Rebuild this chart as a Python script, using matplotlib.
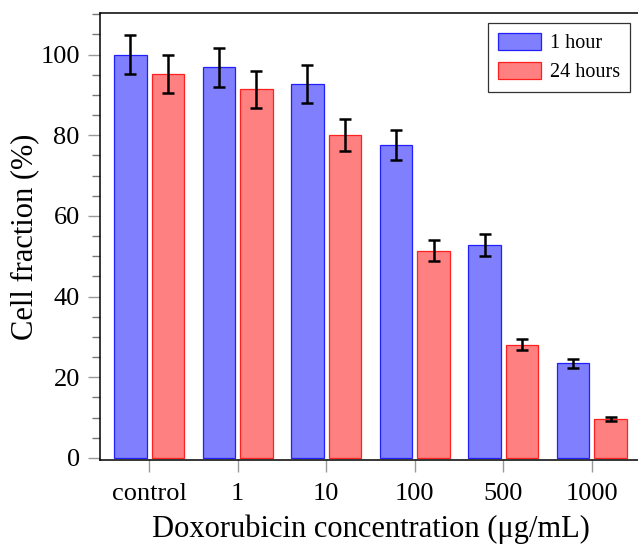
import matplotlib
matplotlib.use("Agg")
import matplotlib.pyplot as plt
from matplotlib.ticker import MultipleLocator
import numpy as np

plt.rcParams['font.family'] = ['Liberation Serif', 'DejaVu Serif']

categories = ["control", "1", "10", "100", "500", "1000"]
one_hour = [100.0, 96.8, 92.8, 77.5, 52.8, 23.5]
one_hour_err = [4.9, 4.8, 4.7, 3.7, 2.65, 1.15]
day = [95.2, 91.4, 80.1, 51.4, 28.1, 9.6]
day_err = [4.8, 4.55, 3.9, 2.6, 1.4, 0.5]

W, H = 638, 549
fig = plt.figure(figsize=(W / 100, H / 100), dpi=100)
ax = fig.add_axes([100 / W, 1 - 460 / H, (641 - 100) / W, (460 - 13) / H])

x = np.arange(len(categories))
bw = 0.367
off = 0.212
err_kw = dict(ecolor='black', elinewidth=1.8, capsize=4.3, capthick=1.8)
ax.bar(x - off, one_hour, bw, yerr=one_hour_err, color='#8080ff', edgecolor='#2020ff',
       linewidth=0.9, label='1 hour', error_kw=err_kw, zorder=2)
ax.bar(x + off, day, bw, yerr=day_err, color='#ff8080', edgecolor='#ff2020',
       linewidth=0.9, label='24 hours', error_kw=err_kw, zorder=2)

ax.set_xlim(-0.556, 5.556)
ax.set_ylim(-0.5, 110.3)
ax.set_xticks(x)
ax.set_xticklabels(categories)
ax.yaxis.set_major_locator(MultipleLocator(20))
ax.yaxis.set_minor_locator(MultipleLocator(5))

for s in ax.spines.values():
    s.set_linewidth(1.1)
    s.set_color('black')

ax.tick_params(axis='both', which='major', direction='out', length=8.5, width=1.0,
               color='#999999', labelsize=19, pad=6)
ax.tick_params(axis='y', which='minor', direction='out', length=5.5, width=1.0, color='#777777')
ax.tick_params(axis='x', which='major', pad=8)

ax.set_xlabel('Doxorubicin concentration (μg/mL)', fontsize=22, labelpad=7)
ax.set_ylabel('Cell fraction (%)', fontsize=22, labelpad=1)

leg = ax.legend(loc='upper right', bbox_to_anchor=(630 / W, 1 - 23 / H),
                bbox_transform=fig.transFigure, borderaxespad=0, fontsize=14.5,
                frameon=True, fancybox=False, handlelength=2.1, handleheight=0.9,
                handletextpad=0.45, labelspacing=0.42, borderpad=0.5)
leg.get_frame().set_edgecolor('black')
leg.get_frame().set_linewidth(0.9)

fig.savefig('out.png', dpi=100)
